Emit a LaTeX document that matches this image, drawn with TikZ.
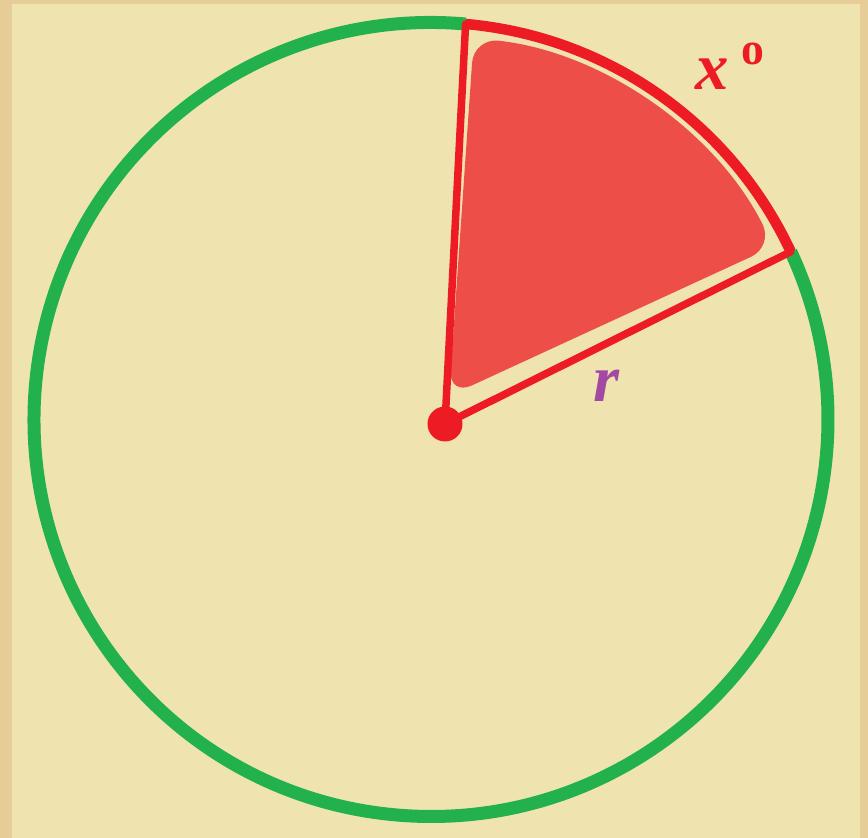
\documentclass[tikz,border=0pt]{standalone}
\usepackage{fontspec}
\setmainfont{Liberation Serif}
\definecolor{paper}{HTML}{EFE4B0}
\definecolor{frame}{HTML}{E6CD98}
\definecolor{rimgreen}{HTML}{22B14C}
\definecolor{sectorred}{HTML}{ED1C24}
\definecolor{labelpurple}{HTML}{A349A4}
\tikzset{
	rim/.style={rimgreen, line width=0.13cm},
	edge/.style={sectorred, line width=0.075cm, line cap=round},
	arcedge/.style={sectorred, line width=0.105cm},
	label font/.style={font=\bfseries\itshape\fontsize{19}{20}\selectfont, inner sep=0}
}
\begin{document}
\begin{tikzpicture}
		% Paper with frame
		\fill[frame] (0,0) rectangle (8.68,8.38);
		\fill[paper] (0.12,0) rectangle (8.60,8.34);
		\useasboundingbox (0,0) rectangle (8.68,8.38);
		
		% Centre of the circle and corners of the sector
		\coordinate (C) at (4.31,4.185);
		\path (C) ++(85:3.97) coordinate (A);
		\path (C) ++(25:3.97) coordinate (B);
		\path (C) ++(83.6:3.84) coordinate (F1);
		\coordinate (F0) at (4.49,4.42);
		
		% Shaded sector
		\fill[sectorred, opacity=0.74, rounded corners=0.25cm] (F0) -- (F1) arc[start angle=83.6, end angle=26.8, radius=3.84] -- cycle;
		
		% Circle
		\draw[rim] (A) arc[start angle=85, end angle=385, radius=3.97];
		\draw[arcedge] (A) arc[start angle=85, end angle=25, radius=3.97];
		
		% Radii
		\node[circle, fill=sectorred, inner sep=0, minimum size=0.35cm] (apex) at (4.45,4.14) {};
		\draw[edge] (apex.center) -- (A);
		\draw[edge] (apex.center) -- (B);
		
		% Labels
		\node[label font, text=sectorred, anchor=base west] (angle) at (6.95,7.48) {x\hspace{0.12cm}\raisebox{0.25cm}{\upshape\fontsize{13}{14}\selectfont o}};
		\node[label font, text=labelpurple, anchor=base west] (radius) at (5.93,4.36) {r};
	\end{tikzpicture}
\end{document}
